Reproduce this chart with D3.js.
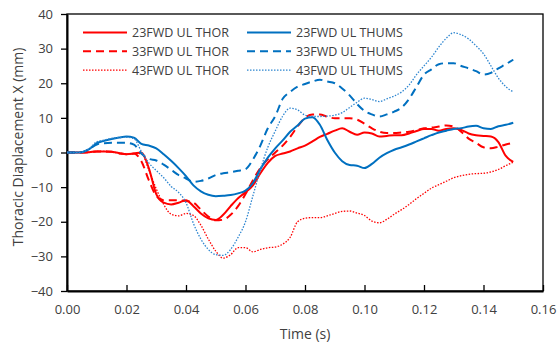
<!DOCTYPE html>
<html>
<head>
<meta charset="utf-8">
<script src="https://cdn.jsdelivr.net/npm/d3@7"></script>
<style>
  body { margin: 0; background: #fff; }
  text { font-family: "Open Sans", "Noto Sans", sans-serif; fill: #404040; }
</style>
</head>
<body>
<div id="chart"></div>
<script>
// chart size
const WIDTH = 557, HEIGHT = 346;
const margin = {top: 14, right: 14, bottom: 55, left: 67};

// time points (s)
const time = [0, 0.0025, 0.005, 0.0075, 0.01, 0.0125, 0.015, 0.0175, 0.02, 0.0225,
  0.025, 0.0275, 0.03, 0.0325, 0.035, 0.0375, 0.04, 0.0425, 0.045, 0.0475,
  0.05, 0.0525, 0.055, 0.0575, 0.06, 0.0625, 0.065, 0.0675, 0.07, 0.0725,
  0.075, 0.0775, 0.08, 0.0825, 0.085, 0.0875, 0.09, 0.0925, 0.095, 0.0975,
  0.1, 0.1025, 0.105, 0.1075, 0.11, 0.1125, 0.115, 0.1175, 0.12, 0.1225,
  0.125, 0.1275, 0.13, 0.1325, 0.135, 0.1375, 0.14, 0.1425, 0.145, 0.1475, 0.15];

// displacement values (mm)
const thor23 = [0, 0, 0, 0.1, 0.3, 0.3, 0.2, -0.2, -0.5, -0.3,
  0, -4.5, -12, -14.5, -15, -14.5, -13.8, -15.5, -17.6, -19,
  -19.5, -18, -15.5, -13.2, -11.5, -9.5, -6, -3, -1, -0.3,
  0.3, 1.2, 2, 3.2, 4.5, 5.4, 6.3, 7, 6, 5.1,
  5.8, 5.5, 4.6, 4.8, 5, 5, 5.5, 6.2, 6.8, 6.8,
  6.3, 6.8, 7, 6.5, 5.5, 5, 4.8, 4.6, 3, -1, -2.7];
const thor33 = [0, 0, 0, 0.1, 0.3, 0.3, 0.2, -0.2, -0.5, -0.3,
  -2.5, -8, -12.5, -13.8, -13.8, -13.8, -14, -14.5, -16.5, -18.5,
  -19.6, -19.4, -18, -15.5, -12, -8, -4.5, -2, 0, 2,
  4.5, 7.5, 10, 11, 11, 10.3, 9.9, 9.9, 9.9, 9.5,
  8.3, 7, 6, 5.6, 5.6, 5.8, 6, 6.5, 7, 7.2,
  7.5, 7.8, 7.5, 6, 4, 2.8, 1.5, 1.2, 1.7, 2.3, 2.8];
const thor43 = [0, 0, 0, 0.1, 0.3, 0.3, 0.2, -0.2, -0.5, -0.3,
  -0.3, -5, -10.5, -15, -17.8, -18.3, -17.6, -18.2, -21, -25,
  -28.5, -30.5, -29.5, -27.5, -27.5, -28.7, -28, -27.5, -27.3, -26.5,
  -24.5, -20, -19, -18.8, -18.8, -18.3, -17.6, -17, -16.9, -17.5,
  -18.2, -19.8, -20.3, -19.3, -17.8, -16.5, -15, -13.3, -11.8, -10.3,
  -9.3, -8.3, -7.3, -6.7, -6.3, -6.1, -6, -5.6, -4.9, -3.8, -2.8];
const thums23 = [0, 0, 0.1, 1, 2.7, 3.4, 3.9, 4.3, 4.6, 4.3,
  2.5, 2, 1.2, -0.5, -2.4, -4.5, -6.8, -9.5, -11.2, -12.2,
  -12.6, -12.5, -12.3, -11.8, -11, -8.8, -4.8, -1.5, 1.2, 3.5,
  6, 7.8, 9.8, 10.2, 8, 3.6, 0, -2.5, -3.6, -3.8,
  -4.5, -3.3, -1.5, -0.2, 0.8, 1.5, 2.3, 3.2, 4.1, 5,
  5.8, 6.3, 6.8, 7, 7.5, 7.7, 7, 6.8, 7.6, 8, 8.6];
const thums33 = [0, 0, 0.1, 1, 2.3, 2.7, 2.8, 2.8, 2.8, 2.3,
  -0.3, -1.8, -2.3, -3.5, -5, -6.5, -7.5, -8.5, -8.2, -7.5,
  -6.5, -6, -5.7, -5.3, -4.8, -2, 2, 7, 10.5, 15.5,
  17.5, 19, 19.8, 20.5, 21, 20.5, 20, 18.5, 16.5, 14,
  12, 11, 10.4, 11, 11.8, 13, 15.5, 19, 22.5, 24,
  25.5, 25.8, 25.8, 25, 24.3, 23.5, 22.5, 23, 24.3, 25.5, 26.8];
const thums43 = [0, 0, 0.1, 1.2, 3.1, 3.6, 4.1, 4.3, 4.4, 4,
  0.3, -3, -5.2, -7.3, -9.8, -11.5, -14.5, -20.5, -25, -28,
  -29.5, -29.7, -28, -24.5, -20, -12.5, -5, 1.5, 6.2, 10.5,
  12.8, 12.3, 10.8, 10.4, 10.4, 10.5, 10.8, 11.5, 13, 14.5,
  15.7, 15.3, 14.7, 15.5, 16.3, 17.5, 19.5, 22.5, 25, 27.5,
  30.5, 33, 34.6, 34, 32.8, 30.8, 28.5, 25, 21.5, 19, 17.5];

const xTicks = [0, 0.02, 0.04, 0.06, 0.08, 0.10, 0.12, 0.14, 0.16];
const yTicks = [-40, -30, -20, -10, 0, 10, 20, 30, 40];

const RED = "#ff0000", BLUE = "#0070c0", LBLUE = "#2e86d0";
const series = [
  {name: "23FWD UL THOR", values: thor23, color: RED, dash: null, width: 2},
  {name: "33FWD UL THOR", values: thor33, color: RED, dash: "8,5", width: 2},
  {name: "43FWD UL THOR", values: thor43, color: RED, dash: "1.5,1.5", width: 1.3},
  {name: "23FWD UL THUMS", values: thums23, color: BLUE, dash: null, width: 2},
  {name: "33FWD UL THUMS", values: thums33, color: BLUE, dash: "8,5", width: 2},
  {name: "43FWD UL THUMS", values: thums43, color: LBLUE, dash: "1.5,1.5", width: 1.3}
];

let svg = d3.select("#chart").append("svg")
  .attr("width", WIDTH)
  .attr("height", HEIGHT);

let w = WIDTH - margin.left - margin.right;
let h = HEIGHT - margin.top - margin.bottom;

let g = svg.append("g")
  .attr("transform", `translate(${margin.left},${margin.top})`);

let x = d3.scaleLinear().domain([0, 0.16]).range([0, w]);
let y = d3.scaleLinear().domain([-40, 40]).range([h, 0]);

// frame
g.append("rect")
  .attr("width", w).attr("height", h)
  .attr("fill", "none").attr("stroke", "#000").attr("stroke-width", 1.3);

// x axis, ticks pointing inward
let xAxis = g.append("g")
  .attr("transform", `translate(0,${h})`)
  .call(d3.axisBottom(x).tickValues(xTicks).tickFormat(d3.format(".2f")).tickSizeInner(-6).tickSizeOuter(0).tickPadding(14));
xAxis.select(".domain").attr("stroke", "#000").attr("stroke-width", 2);
xAxis.selectAll(".tick line").attr("stroke", "#000").attr("stroke-width", 1.3);
xAxis.selectAll("text").style("font-size", "13px").attr("fill", "#404040");

// y axis
let yAxis = g.append("g")
  .call(d3.axisLeft(y).tickValues(yTicks).tickSizeInner(6).tickSizeOuter(0).tickPadding(8));
yAxis.select(".domain").attr("stroke", "#000").attr("stroke-width", 2);
yAxis.selectAll(".tick line").attr("stroke", "#000").attr("stroke-width", 1.3);
yAxis.selectAll("text").style("font-size", "13px").attr("fill", "#404040");

// lines
let line = d3.line()
  .x((d, i) => x(time[i]))
  .y(d => y(d))
  .curve(d3.curveMonotoneX);

series.forEach(function(s) {
  g.append("path")
    .datum(s.values)
    .attr("fill", "none")
    .attr("stroke", s.color)
    .attr("stroke-width", s.width)
    .attr("stroke-dasharray", s.dash)
    .attr("d", line);
});

// legend
let legend = g.append("g");
series.forEach(function(s, i) {
  let col = Math.floor(i / 3), row = i % 3;
  let lx = 16 + col * 164, ly = 18.5 + row * 18.8;
  legend.append("line")
    .attr("x1", lx).attr("x2", lx + 44)
    .attr("y1", ly).attr("y2", ly)
    .attr("stroke", s.color)
    .attr("stroke-width", s.width)
    .attr("stroke-dasharray", s.dash);
  legend.append("text")
    .attr("x", lx + 49).attr("y", ly + 4.5)
    .style("font-size", "12.5px")
    .text(s.name);
});

// axis titles
svg.append("text")
  .attr("x", margin.left + w / 2).attr("y", 339)
  .style("text-anchor", "middle")
  .style("font-size", "14px")
  .text("Time (s)");

svg.append("text")
  .attr("transform", `translate(23, 147) rotate(-90)`)
  .style("text-anchor", "middle")
  .style("font-size", "14px")
  .text("Thoracic Diaplacement X (mm)");
</script>
</body>
</html>
